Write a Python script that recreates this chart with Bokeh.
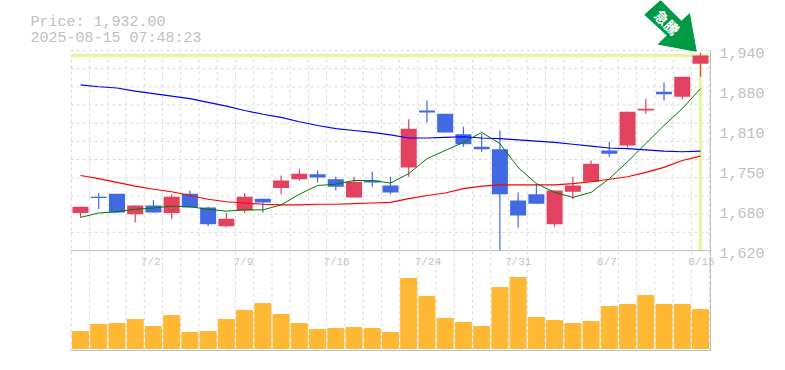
from bokeh.embed import file_html
from bokeh.resources import INLINE
from bokeh.plotting import figure
from bokeh.models import ColumnDataSource, FixedTicker, LinearAxis, Range1d
from bokeh.core.properties import value

# Daily bars (yen)
opens = [1680, 1706, 1711, 1678, 1692, 1680, 1711, 1689, 1659, 1684, 1703, 1720, 1734,
         1742, 1734, 1705, 1732, 1724, 1753, 1844, 1839, 1806, 1786, 1782, 1700, 1710, 1662,
         1714, 1730, 1780, 1788, 1844, 1874, 1866, 1919]
closes = [1690, 1704, 1681, 1692, 1681, 1706, 1689, 1662, 1671, 1706, 1697, 1732, 1743,
          1737, 1722, 1730, 1729, 1713, 1815, 1841, 1809, 1790, 1782, 1710, 1676, 1695, 1716,
          1724, 1759, 1775, 1842, 1847, 1870, 1898, 1932]
highs = [1690, 1712, 1711, 1692, 1701, 1710, 1716, 1690, 1680, 1712, 1703, 1740, 1751,
         1748, 1738, 1738, 1746, 1738, 1830, 1860, 1839, 1818, 1807, 1812, 1713, 1727, 1716,
         1738, 1764, 1794, 1842, 1863, 1889, 1898, 1937]
lows = [1673, 1686, 1681, 1665, 1681, 1670, 1689, 1659, 1657, 1680, 1681, 1710, 1732,
        1729, 1716, 1705, 1722, 1710, 1738, 1825, 1809, 1786, 1778, 1620, 1657, 1695, 1658,
        1702, 1730, 1770, 1785, 1839, 1860, 1862, 1898]
ma_green = [1673, 1680, 1682, 1686, 1688, 1691, 1690, 1686, 1683, 1685, 1685, 1693, 1710,
            1724, 1726, 1732, 1732, 1728, 1743, 1767, 1780, 1793, 1809, 1791, 1753, 1727, 1713,
            1705, 1713, 1735, 1762, 1791, 1820, 1847, 1879]
ma_blue = [1885, 1882, 1880, 1875, 1871, 1867, 1863, 1857, 1851, 1844, 1838, 1833, 1826,
           1820, 1815, 1812, 1809, 1805, 1800, 1800, 1801, 1802, 1800, 1799, 1797, 1795, 1793,
           1790, 1787, 1784, 1783, 1781, 1779, 1778, 1779]
ma_red = [1740, 1735, 1729, 1723, 1718, 1714, 1708, 1702, 1698, 1696, 1694, 1693, 1693,
          1694, 1694, 1695, 1696, 1697, 1703, 1708, 1712, 1719, 1723, 1725, 1725, 1725, 1725,
          1727, 1730, 1734, 1738, 1745, 1753, 1764, 1771]
volumes = [17, 24, 25, 29, 22, 33, 16, 17, 29, 38, 45, 34, 25, 19, 20, 21, 20, 16, 70, 52,
           30, 26, 22, 61, 71, 31, 28, 25, 27, 42, 44, 53, 44, 44, 39]
date_ticks = {3.85: "7/2", 8.94: "7/9", 14.04: "7/16", 19.06: "7/24", 24.0: "7/31", 28.87: "8/7", 34.05: "8/15"}
price_ticks = [1616, 1680, 1744, 1808, 1872, 1936]
price_labels = ["1,620", "1,680", "1,750", "1,810", "1,880", "1,940"]
last_price = 1932
header = ["Price: 1,932.00", "2025-08-15 07:48:23"]
badge = "急騰"

n = len(opens)
xs = list(range(n))
RED, BLUE = "#E2415F", "#4169E1"
colors = [RED if c >= o else BLUE for o, c in zip(opens, closes)]
src = ColumnDataSource(dict(x=xs, top=[max(o, c) for o, c in zip(opens, closes)],
                            bottom=[min(o, c) for o, c in zip(opens, closes)],
                            high=highs, low=lows, color=colors, vol=volumes))

# The drawing area covers the whole figure, so that the header and badge are not clipped.
STEP = 18.235   # pixels per trading day
PPP = 1.6       # yen per pixel
W, H = 777, 362
def X(px): return (px - 80) / STEP
def Y(py): return 1620 + (250 - py) * PPP
LEFT, RIGHT, TOP, PANEL, BOTTOM = X(70), X(710), Y(50), 1620, Y(350)

p = figure(width=W, height=H, frame_width=W, frame_height=H, output_backend="svg",
           toolbar_location=None, x_range=Range1d(X(0), X(W)), y_range=Range1d(Y(H), Y(0)),
           min_border=0, outline_line_color=None, background_fill_color="white",
           x_axis_location=None, y_axis_location=None)
p.extra_y_ranges["vol"] = Range1d(348 - H, 348)
p.grid.visible = False

# dashed grid
GRID = dict(line_color="#d9d9d9", line_dash="3 3", line_width=1)
gx = [i - 0.5 for i in range(n + 1)]
gy = [1620 + i * 320 / 11 for i in range(12)]
p.segment(x0=gx, x1=gx, y0=[BOTTOM] * len(gx), y1=[TOP] * len(gx), **GRID)
p.segment(x0=[LEFT] * len(gy), x1=[RIGHT] * len(gy), y0=gy, y1=gy, **GRID)

# date axis at the bottom of the price panel
xax = LinearAxis(ticker=FixedTicker(ticks=list(date_ticks)), major_label_overrides=dict(date_ticks),
                 fixed_location=PANEL, bounds=(LEFT, RIGHT), axis_line_color="#c0c0c0",
                 major_tick_line_color=None, minor_tick_line_color=None,
                 major_label_text_color="#c4c4c4", major_label_text_font="Liberation Mono",
                 major_label_text_font_size="11px", major_label_standoff=-1)
p.add_layout(xax, "below")
# bottom line of the volume panel
bax = LinearAxis(ticker=FixedTicker(ticks=[]), fixed_location=BOTTOM, bounds=(LEFT, RIGHT),
                 axis_line_color="#c0c0c0", major_tick_line_color=None,
                 minor_tick_line_color=None, major_label_text_font_size="0px")
p.add_layout(bax, "below")
yax = LinearAxis(ticker=FixedTicker(ticks=price_ticks),
                 major_label_overrides=dict(zip(price_ticks, price_labels)),
                 fixed_location=RIGHT, bounds=(BOTTOM, TOP),
                 axis_line_color="#c0c0c0", major_tick_line_color=None, minor_tick_line_color=None,
                 major_label_text_color="#c0c0c0", major_label_text_font="Liberation Mono",
                 major_label_text_font_size="15px", major_label_standoff=3)
p.add_layout(yax, "right")

HL = "#E4F5A6"
p.segment(x0=[LEFT], x1=[RIGHT], y0=[last_price], y1=[last_price], line_color=HL, line_width=3.5, line_cap="butt")
p.segment(x0=[n - 1], x1=[n - 1], y0=[last_price], y1=[1620], line_color=HL, line_width=3.5, line_cap="butt")

p.vbar(x="x", width=0.877, bottom=0, top="vol", source=src, color="#FEB833", y_range_name="vol")
p.segment(x0="x", x1="x", y0="low", y1="high", source=src, line_color="color", line_width=1.2)
p.vbar(x="x", width=0.877, bottom="bottom", top="top", source=src, fill_color="color", line_color=None)
p.line(xs, ma_blue, line_color="#0000ff", line_width=1.2)
p.line(xs, ma_red, line_color="#ff0000", line_width=1.2)
p.line(xs, ma_green, line_color="#007a00", line_width=1)

TXT = dict(text_color="#c0c0c0", text_font=value("Liberation Mono"), text_font_size="15px",
           text_baseline="alphabetic", text_align="left")
p.text(x=[X(30)] * 2, y=[Y(22), Y(38)], text=header, **TXT)

# badge arrow: pixel offsets from its tip, which points at the last candle
tip_x, tip_y = 695.7, 50.7
ax = [0, -38, -29, -51.4, -35.7, -14.7, -6.7]
ay = [0, -7, -15.7, -36.4, -50.7, -30, -37.4]
p.patch(x=[X(tip_x + v) for v in ax], y=[Y(tip_y + v) for v in ay], fill_color="#009944", line_color="#009944")
p.text(x=[X(tip_x - 29)], y=[Y(tip_y - 29)], text=[badge], angle=-45, angle_units="deg",
       text_color="white", text_font=value("Noto Sans CJK JP"), text_font_size="14px",
       text_font_style="bold", text_align="center", text_baseline="middle")

open("out.html", "w").write(file_html(p, INLINE))
